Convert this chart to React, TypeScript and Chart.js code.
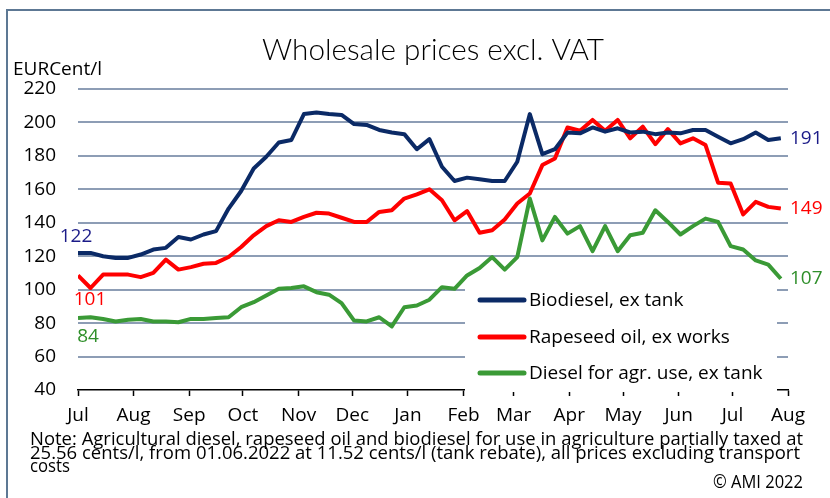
import React, { useEffect, useRef } from "react";
import { Chart, registerables } from "chart.js";

Chart.register(...registerables);

// ---- data ----
const weekDates = [
  "2021-07-01", "2021-07-08", "2021-07-15", "2021-07-22", "2021-07-29",
  "2021-08-05", "2021-08-12", "2021-08-19", "2021-08-26",
  "2021-09-02", "2021-09-09", "2021-09-16", "2021-09-23", "2021-09-30",
  "2021-10-07", "2021-10-14", "2021-10-21", "2021-10-28",
  "2021-11-04", "2021-11-11", "2021-11-18", "2021-11-25",
  "2021-12-02", "2021-12-09", "2021-12-16", "2021-12-23", "2021-12-30",
  "2022-01-06", "2022-01-13", "2022-01-20", "2022-01-27",
  "2022-02-03", "2022-02-10", "2022-02-17", "2022-02-24",
  "2022-03-03", "2022-03-10", "2022-03-17", "2022-03-24", "2022-03-31",
  "2022-04-07", "2022-04-14", "2022-04-21", "2022-04-28",
  "2022-05-05", "2022-05-12", "2022-05-19", "2022-05-26",
  "2022-06-02", "2022-06-09", "2022-06-16", "2022-06-23", "2022-06-30",
  "2022-07-07", "2022-07-14", "2022-07-21", "2022-07-28",
];

const biodiesel = [
  122, 122, 120, 119, 119, 121, 124, 125, 131.5, 130, 133, 135, 148.5, 159, 172.5,
  179.5, 188, 189.5, 205, 206, 205, 204.5, 199, 198.5, 195.5, 194, 193, 184, 190,
  173.5, 165, 167, 166, 165, 165, 176.5, 205, 181, 184, 194, 193.5, 197, 194.5,
  196.5, 194, 194.5, 193, 194, 193.5, 195.5, 195.5, 191.5, 187.5, 190, 194, 189.5, 190.5,
];

const rapeseedOil = [
  108.5, 101, 109, 109, 109, 107.5, 110, 118, 112, 113.5, 115.5, 116, 119.5, 125.5, 132.5,
  138, 141.5, 140.5, 143.5, 146, 145.5, 143, 140.5, 140.5, 146.5, 147.5, 154.5, 157, 160,
  153.5, 141.5, 147, 134, 135.5, 142, 151.5, 157.5, 174.5, 178.5, 197, 195, 201.5, 195,
  201.5, 190.5, 197.5, 187, 196, 187.5, 190.5, 186.5, 164, 163.5, 145, 152.5, 149.5, 148.5,
];

const agrDiesel = [
  83, 83.5, 82.5, 81, 82, 82.5, 81, 81, 80.5, 82.5, 82.5, 83, 83.5, 89.5, 92.5,
  96.5, 100.5, 101, 102, 98.5, 97, 92, 81.5, 81, 83.5, 78, 89.5, 90.5, 94,
  101.5, 100.5, 108.5, 113, 119.5, 112, 119.5, 154.5, 129.5, 143.5, 133.5, 138, 123, 138,
  123, 132.5, 134, 147.5, 140.5, 133, 138, 142.5, 140.5, 126, 124, 117.5, 115, 106.5,
];

const seriesNames = ["Biodiesel, ex tank", "Rapeseed oil, ex works", "Diesel for agr. use, ex tank"];
const startLabels = [122, 101, 84];
const endLabels = [191, 149, 107];

const monthTicks = [
  "2021-07-01", "2021-08-01", "2021-09-01", "2021-10-01", "2021-11-01", "2021-12-01",
  "2022-01-01", "2022-02-01", "2022-03-01", "2022-04-01", "2022-05-01", "2022-06-01",
  "2022-07-01", "2022-08-01",
];
const monthNames = ["Jul", "Aug", "Sep", "Oct", "Nov", "Dec", "Jan", "Feb", "Mar", "Apr", "May", "Jun", "Jul", "Aug"];
const yTicks = [40, 60, 80, 100, 120, 140, 160, 180, 200, 220];

const titleText = "Wholesale prices excl. VAT";
const unitText = "EURCent/l";
const noteLines = [
  "Note: Agricultural diesel, rapeseed oil and biodiesel for use in agriculture partially taxed at",
  "25.56 cents/l, from 01.06.2022 at 11.52 cents/l (tank rebate), all prices excluding transport",
  "costs",
];
const copyrightText = "© AMI 2022";

// ---- styles ----
const seriesColors = ["#0b2a66", "#ff0000", "#3a9a36"];
const labelColors = ["#1b1b88", "#ff0000", "#2f8f2a"];
const startLabelStyle = [
  { x: 76, dy: -16 },
  { x: 90, dy: 12 },
  { x: 88, dy: 20 },
];
const FONT = "'Open Sans', 'Noto Sans', sans-serif";
const gridColor = "#8d9db5";

const origin = Date.parse("2021-07-01T00:00:00Z");
const dayOf = (s: string) => (Date.parse(s + "T00:00:00Z") - origin) / 86400000;

const decorPlugin = {
  id: "decor",
  beforeDraw(chart: any) {
    const ctx = chart.ctx;
    ctx.save();
    ctx.fillStyle = "#ffffff";
    ctx.fillRect(0, 0, chart.width, chart.height);
    // frame
    ctx.strokeStyle = "#5d7894";
    ctx.lineWidth = 2;
    ctx.beginPath();
    ctx.moveTo(7, chart.height);
    ctx.lineTo(7, 10);
    ctx.lineTo(chart.width, 10);
    ctx.stroke();
    // title
    ctx.fillStyle = "#000";
    ctx.textBaseline = "alphabetic";
    ctx.textAlign = "center";
    ctx.font = `300 30px Lato, ${FONT}`;
    ctx.fillText(titleText, 433, 60, 342);
    // unit
    ctx.textAlign = "left";
    ctx.font = `19px ${FONT}`;
    ctx.fillText(unitText, 13, 75, 97);
    // note
    ctx.font = `19px ${FONT}`;
    ctx.fillText(noteLines[0], 30, 445, 773);
    ctx.fillText(noteLines[1], 30, 459, 770);
    ctx.fillText(noteLines[2], 30, 472, 40);
    ctx.textAlign = "right";
    ctx.fillText(copyrightText, 803, 488, 90);
    ctx.restore();
  },
  afterDatasetsDraw(chart: any) {
    const ctx = chart.ctx;
    const y = chart.scales.y;
    const x = chart.scales.x;
    ctx.save();
    // legend box
    ctx.fillStyle = "#ffffff";
    ctx.fillRect(465, 286, 312, 106);
    ctx.textBaseline = "middle";
    ctx.textAlign = "left";
    ctx.font = `19px ${FONT}`;
    const rows = [300, 337, 373];
    seriesNames.forEach((name, i) => {
      ctx.strokeStyle = seriesColors[i];
      ctx.lineWidth = 5;
      ctx.lineCap = "round";
      ctx.beginPath();
      ctx.moveTo(480, rows[i]);
      ctx.lineTo(524, rows[i]);
      ctx.stroke();
      ctx.fillStyle = "#000";
      ctx.fillText(name, 529, rows[i] + 1);
    });
    // value labels
    ctx.font = `19px ${FONT}`;
    startLabels.forEach((v, i) => {
      ctx.fillStyle = labelColors[i];
      ctx.textAlign = "center";
      ctx.fillText(String(v), startLabelStyle[i].x, y.getPixelForValue(v) + startLabelStyle[i].dy);
    });
    endLabels.forEach((v, i) => {
      ctx.fillStyle = labelColors[i];
      ctx.textAlign = "left";
      ctx.fillText(String(v), x.right + 2, y.getPixelForValue(v) + 1);
    });
    ctx.restore();
  },
};

export default function App() {
  const ref = useRef<HTMLCanvasElement | null>(null);
  useEffect(() => {
    if (!ref.current) return;
    const series = [biodiesel, rapeseedOil, agrDiesel];
    const chart = new Chart(ref.current, {
      type: "line",
      data: {
        datasets: series.map((s, i) => ({
          label: seriesNames[i],
          data: weekDates.map((d, j) => ({ x: dayOf(d), y: s[j] })),
          borderColor: seriesColors[i],
          backgroundColor: seriesColors[i],
          borderWidth: 4,
          pointRadius: 0,
          tension: 0,
          fill: false,
          borderJoinStyle: "round" as const,
        })),
      },
      options: {
        responsive: false,
        animation: false,
        layout: { padding: { top: 89, right: 42, left: 0, bottom: 0 } },
        plugins: {
          legend: { display: false },
          title: { display: false },
          tooltip: { enabled: false },
        },
        scales: {
          x: {
            type: "linear",
            min: 0,
            max: dayOf(monthTicks[monthTicks.length - 1]),
            afterBuildTicks: (s: any) => {
              s.ticks = monthTicks.map((d) => ({ value: dayOf(d) }));
            },
            afterFit: (s: any) => {
              s.height = 108;
            },
            grid: {
              display: true,
              drawOnChartArea: false,
              drawTicks: true,
              tickLength: 6,
              tickColor: "#000",
              tickWidth: 1.5,
            },
            border: { display: true, color: "#000", width: 1.5 },
            ticks: {
              autoSkip: false,
              maxRotation: 0,
              padding: 8,
              color: "#000",
              font: { family: FONT, size: 19 },
              callback: (_v: any, i: number) => monthNames[i],
            },
          },
          y: {
            min: 40,
            max: 220,
            afterBuildTicks: (s: any) => {
              s.ticks = yTicks.map((v) => ({ value: v }));
            },
            afterFit: (s: any) => {
              s.width = 78;
            },
            grid: {
              color: (c: any) => (c.tick && c.tick.value === 40 ? "rgba(0,0,0,0)" : gridColor),
              lineWidth: 2,
              drawTicks: false,
            },
            border: { display: false },
            ticks: {
              padding: 22,
              color: "#000",
              font: { family: FONT, size: 19 },
            },
          },
        },
      },
      plugins: [decorPlugin],
    } as any);
    return () => chart.destroy();
  }, []);

  return (
    <div style={{ position: "absolute", left: 0, top: 0, width: 830, height: 498 }}>
      <canvas ref={ref} width={830} height={498} style={{ width: 830, height: 498, display: "block" }} />
    </div>
  );
}
